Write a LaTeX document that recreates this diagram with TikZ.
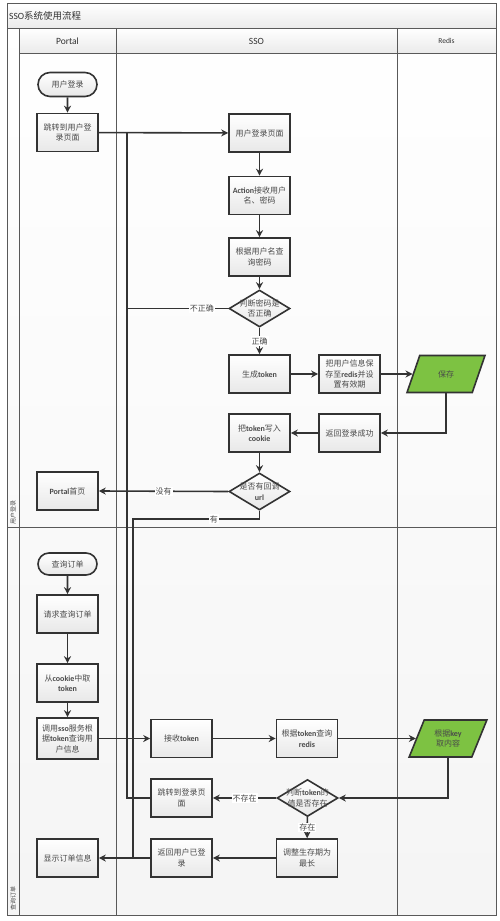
\documentclass[tikz,border=0pt]{standalone}
\usepackage{fontspec}
\setmainfont{Noto Sans CJK SC}
\newfontfamily\latf{Carlito}
\usetikzlibrary{arrows.meta,shapes.geometric,shapes.misc}
\newcommand{\lw}[1]{{\latf\bfseries #1}}
\definecolor{ln}{HTML}{333333}
\definecolor{tx}{HTML}{4A4A4A}
\definecolor{grn}{HTML}{7DC242}
\tikzset{
  base/.style={draw=ln, line width=1.6pt, align=center, text=tx,
    font=\fontsize{8}{10.5}\selectfont, inner sep=1pt},
  procbox/.style={base, rectangle, minimum width=61pt, minimum height=38pt,
    top color=white, bottom color=black!9},
  startbox/.style={base, rounded rectangle, minimum width=61pt, minimum height=24pt,
    top color=white, bottom color=black!9},
  decbox/.style={base, diamond, minimum width=61pt, minimum height=37pt,
    top color=white, bottom color=black!9, inner sep=0pt,
    label={[align=center, text=tx, font=\fontsize{8}{10.5}\selectfont, inner sep=0pt]center:#1}},
  databox/.style={base, trapezium, trapezium left angle=65, trapezium right angle=115,
    trapezium stretches=true, minimum width=78pt, minimum height=37pt, fill=grn},
  conn/.style={draw=ln, line width=1.6pt, -{Stealth[length=7pt,width=7pt]}},
  plain/.style={draw=ln, line width=1.6pt},
  lab/.style={fill=white, text=tx, font=\fontsize{8}{10}\selectfont, inner sep=1pt},
  frame/.style={draw=black!65, line width=0.8pt},
}
\begin{document}
\begin{tikzpicture}[x=1pt,y=-1pt]
\useasboundingbox (0,0) rectangle (500,921);
\fill[white] (0,0) rectangle (500,921);
% swimlane frame
\shade[top color=white, bottom color=black!4] (7,3) rectangle (496,915);
\shade[top color=white, bottom color=black!8] (7,3) rectangle (496,28);
\shade[top color=white, bottom color=black!8] (19,28) rectangle (496,53);
\draw[frame] (7,3) rectangle (496,915);
\draw[frame] (7,28) -- (496,28);
\draw[frame] (19,53) -- (496,53);
\draw[frame] (19,28) -- (19,915);
\draw[frame] (116,28) -- (116,915);
\draw[frame] (397,28) -- (397,915);
\draw[frame] (7,527) -- (496,527);
\node[anchor=west, text=black!80, font=\fontsize{9.5}{11}\selectfont, inner sep=0pt] (title) at (9,15.5) {{\latf SSO}系统使用流程};
\node[text=black!80, font=\latf\fontsize{9.5}{11}\selectfont] (hp) at (67.5,41) {Portal};
\node[text=black!80, font=\latf\fontsize{9.5}{11}\selectfont] (hs) at (256.5,41) {SSO};
\node[text=black!80, font=\latf\fontsize{7.5}{9}\selectfont] (hr) at (446.5,41) {Redis};
\node[rotate=90, text=tx, font=\fontsize{6}{7}\selectfont, inner sep=0pt] (lane1) at (13,512) {用户登录};
\node[rotate=90, text=tx, font=\fontsize{6}{7}\selectfont, inner sep=0pt] (lane2) at (13,898) {查询订单};

% login flow
\node[startbox] (start1) at (67.5,84.5) {用户登录};
\node[procbox] (jump1) at (67.5,132.5) {跳转到用户登\\录页面};
\node[procbox] (page) at (259.5,133) {用户登录页面};
\node[procbox] (action) at (259.5,195.5) {\lw{Action}接收用户\\名、密码};
\node[procbox] (query) at (259.5,257) {根据用户名查\\询密码};
\node[decbox={判断密码是\\否正确}] (d1) at (259.5,308.5) {};
\node[procbox] (tok) at (259.5,374) {生成\lw{token}};
\node[procbox] (save) at (349.5,374) {把用户信息保\\存至\lw{redis}并设\\置有效期};
\node[databox] (store) at (446,374) {保存};
\node[procbox] (succ) at (349.5,433) {返回登录成功};
\node[procbox] (cookie) at (259.5,433) {把\lw{token}写入\\\lw{cookie}};
\node[decbox={是否有回调\\\lw{url}}] (d2) at (259.5,491.5) {};
\node[procbox] (portal) at (67.5,491) {\lw{Portal}首页};

% order flow
\node[startbox, minimum height=22pt] (start2) at (67.5,564) {查询订单};
\node[procbox] (req) at (67.5,614) {请求查询订单};
\node[procbox] (fromck) at (67.5,683) {从\lw{cookie}中取\\\lw{token}};
\node[procbox, minimum height=41pt] (call) at (67.5,738.5) {调用\lw{sso}服务根\\据\lw{token}查询用\\户信息};
\node[procbox] (recv) at (181.5,738.5) {接收\lw{token}};
\node[procbox] (rq) at (307,738.5) {根据\lw{token}查询\\\lw{redis}};
\node[databox] (key) at (448,738.5) {根据\lw{key}\\取内容};
\node[decbox={判断\lw{token}的\\值是否存在}] (d3) at (307.5,798) {};
\node[procbox] (jp) at (181.5,798) {跳转到登录页\\面};
\node[procbox] (adj) at (307,858) {调整生存期为\\最长};
\node[procbox] (ret) at (181.5,858) {返回用户已登\\录};
\node[procbox] (show) at (67.5,858) {显示订单信息};

\coordinate (jtop) at (127,133);
\coordinate (jbot) at (133,858);

% connectors login
\draw[conn] (start1) -- (jump1);
\draw[conn] (jump1) -- (page);
\draw[conn] (page) -- (action);
\draw[conn] (action) -- (query);
\draw[conn] (query) -- (d1);
\draw[plain] (d1.west) -- node[lab, pos=0.26]{不正确} (d1.west -| jtop);
\draw[conn] (d1) -- node[lab]{正确} (tok);
\draw[conn] (tok) -- (save);
\draw[conn] (save) -- (store);
\draw[conn] (store.south) |- (succ.east);
\draw[conn] (succ) -- (cookie);
\draw[conn] (cookie) -- (d2);
\draw[conn] (d2.west) -- node[lab]{没有} (portal.east);
\draw[plain] (d2.south) |- node[lab, pos=0.68]{有} (133,519) -- (jbot);

% connectors order
\draw[conn] (start2) -- (req);
\draw[conn] (req) -- (fromck);
\draw[conn] (fromck) -- (call);
\draw[conn] (call) -- (recv);
\draw[conn] (recv) -- (rq);
\draw[conn] (rq) -- (key);
\draw[conn] (key.south) |- (d3.east);
\draw[conn] (d3.west) -- node[lab]{不存在} (jp.east);
\draw[conn] (d3) -- node[lab]{存在} (adj);
\draw[conn] (adj) -- (ret);
\draw[conn] (ret) -- (show);
\draw[plain] (jp.west) -| (jtop);
\end{tikzpicture}
\end{document}
